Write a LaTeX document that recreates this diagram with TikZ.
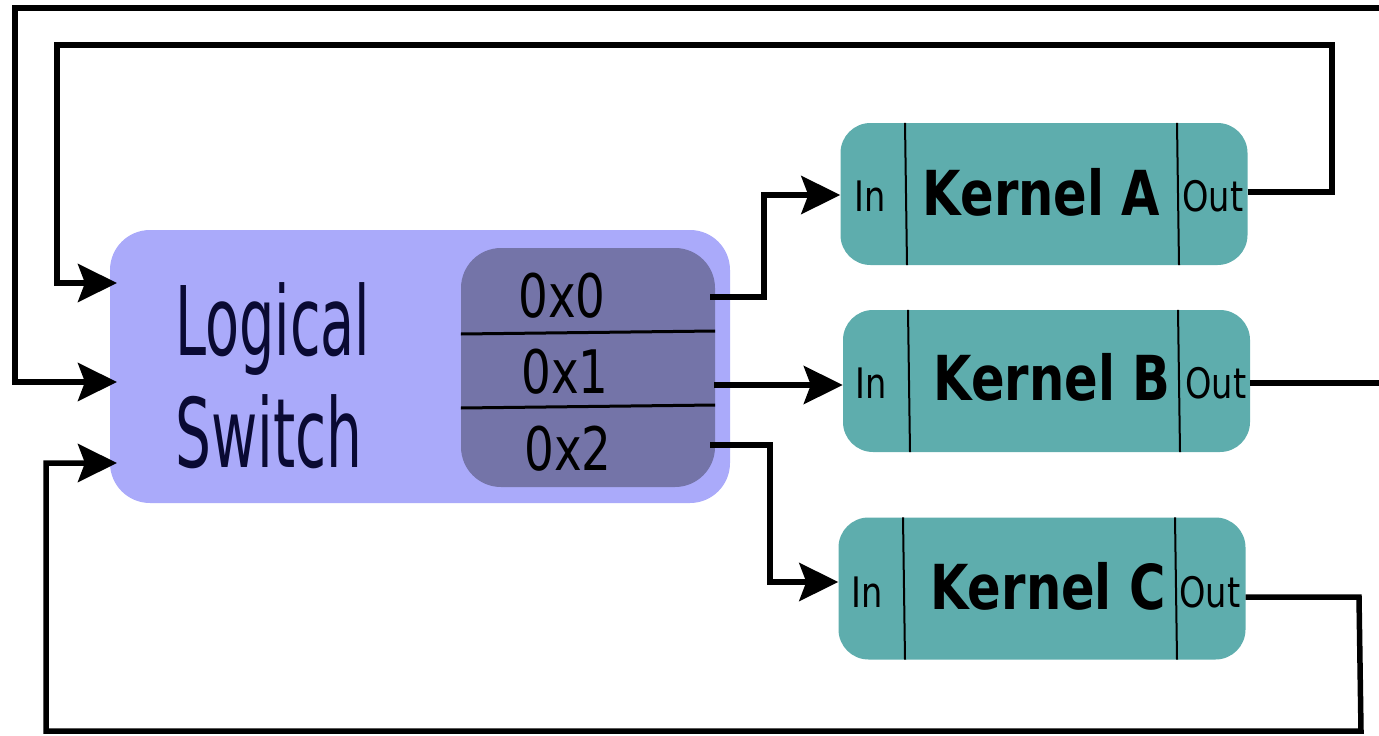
\documentclass[tikz,border=0pt]{standalone}
\usepackage{fontspec}
\setmainfont{DejaVu Sans}
\usetikzlibrary{arrows.meta}
\definecolor{swl}{HTML}{AAAAFA}
\definecolor{swd}{HTML}{7474A8}
\definecolor{kern}{HTML}{5EADAD}
\definecolor{navy}{HTML}{0A0A33}
\newcommand{\sx}[2]{\scalebox{#1}[1]{#2}}
\begin{document}
\begin{tikzpicture}[x=1pt,y=-1pt,
  wire/.style={line width=5.5pt, line join=miter},
  arr/.style={wire, -{Stealth[length=39pt,width=38pt,inset=7pt]}},
  kbox/.style={fill=kern, rounded corners=30pt, minimum width=407pt, minimum height=142pt, inner sep=0pt},
  divline/.style={line width=2pt},
  ktext/.style={anchor=base, inner sep=0pt, font=\fontsize{62}{62}\selectfont\bfseries},
  iotext/.style={anchor=base, inner sep=0pt, font=\fontsize{42}{42}\selectfont},
  rowtext/.style={anchor=base, inner sep=0pt, font=\fontsize{60}{60}\selectfont},
  swtext/.style={anchor=base west, inner sep=0pt, text=navy, font=\fontsize{96}{96}\selectfont},
  rowline/.style={line width=3pt}
]
\useasboundingbox (0,0) rectangle (1379,736);

% Logical switch
\node[fill=swl, rounded corners=40pt, minimum width=620pt, minimum height=273pt, inner sep=0pt] (sw) at (420,366.5) {};
\node[fill=swd, rounded corners=40pt, minimum width=254pt, minimum height=239pt, inner sep=0pt] (tbl) at (588,367.5) {};
\node[swtext] (lbl1) at (175,355) {\sx{0.58}{Logical}};
\node[swtext] (lbl2) at (175,467) {\sx{0.59}{Switch}};
\draw[rowline] (tbl.west |- 0,334) -- (tbl.east |- 0,331);
\draw[rowline] (tbl.west |- 0,408) -- (tbl.east |- 0,405);
\node[rowtext] (r0) at (562,317) {\sx{0.78}{0x0}};
\node[rowtext] (r1) at (565,393) {\sx{0.78}{0x1}};
\node[rowtext] (r2) at (568,470) {\sx{0.78}{0x2}};

% Kernels
\node[kbox] (kA) at (1044,194) {};
\node[kbox] (kB) at (1046.5,381) {};
\node[kbox] (kC) at (1042,588.5) {};
\foreach \k/\xa/\xb in {kA/905/1177, kB/908/1178, kC/903/1175}{
  \draw[divline] (\k.north -| \xa,0) -- ([xshift=2pt]\k.south -| \xa,0);
  \draw[divline] (\k.north -| \xb,0) -- ([xshift=2pt]\k.south -| \xb,0);
}
\node[ktext] (tA) at (1041.5,215) {\sx{0.8}{Kernel A}};
\node[ktext] (tB) at (1052,400) {\sx{0.8}{Kernel B}};
\node[ktext] (tC) at (1048,609) {\sx{0.8}{Kernel C}};
\node[iotext] (iA) at (870,211) {\sx{0.8}{In}};
\node[iotext] (iB) at (871.5,398) {\sx{0.8}{In}};
\node[iotext] (iC) at (867.5,607) {\sx{0.8}{In}};
\node[iotext] (oA) at (1213,211) {\sx{0.8}{Out}};
\node[iotext] (oB) at (1216,398) {\sx{0.8}{Out}};
\node[iotext] (oC) at (1210,607) {\sx{0.8}{Out}};

% ports
\coordinate (p0) at (710,297);
\coordinate (p1) at (714,385);
\coordinate (p2) at (710,445);
\coordinate (in0) at (117,283);
\coordinate (in1) at (117,382);
\coordinate (in2) at (117,463);
\coordinate (topR) at (1379,8);
\coordinate (bR) at (1379,383);

% connectors switch -> kernels
\draw[arr] (p0) -- (764,297) -- (764,195) -- (kA.west |- 0,195);
\draw[arr] (p1) -- (kB.west |- p1);
\draw[arr] (p2) -- (770,445) -- (770,582) -- (kC.west |- 0,582);

% feedback loops
\draw[arr] (kA.east |- 0,192) -- (1332,192) -- (1332,45) -- (57,45) -- (57,283) -- (in0);
\draw[wire] (kB.east |- bR) -- (bR);
\draw[arr] (topR) -- (15,8) -- (15,382) -- (in1);
\draw[arr] (kC.east |- 0,597) -- (1359,597) -- (1361,731) -- (46,731) -- (46,463) -- (in2);
\end{tikzpicture}
\end{document}
